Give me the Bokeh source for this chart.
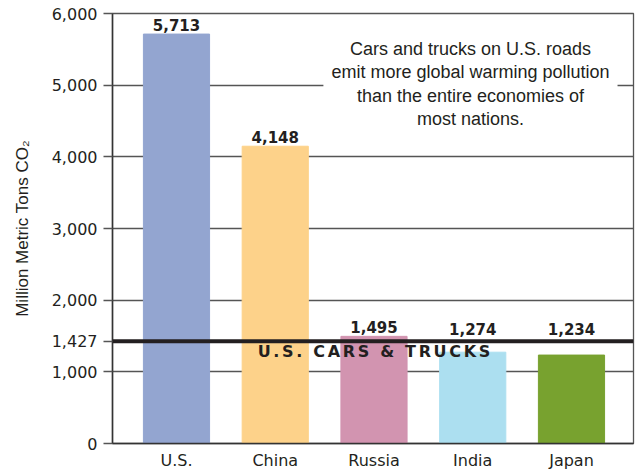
from bokeh.plotting import figure
from bokeh.models import Range1d, FixedTicker, NumeralTickFormatter, Span, Label, ColumnDataSource
from bokeh.embed import file_html
from bokeh.resources import INLINE
from bokeh.core.properties import value

# ---- data ----
countries = ["U.S.", "China", "Russia", "India", "Japan"]
emissions = [5713, 4148, 1495, 1274, 1234]
value_labels = ["5,713", "4,148", "1,495", "1,274", "1,234"]
bar_colors = ["#93a5d0", "#fdd28a", "#d294b0", "#acdff0", "#78a22f"]
us_vehicles = 1427
us_vehicles_label = "1,427"
us_vehicles_title = "U.S. CARS & TRUCKS"
y_ticks = [0, 1000, 2000, 3000, 4000, 5000, 6000]
note = "Cars and trucks on U.S. roads\nemit more global warming pollution\nthan the entire economies of\nmost nations."

TXT = "#231f20"
FONT = "DejaVu Sans"
X_START, X_END = -0.648, 4.628

# letter-spaced version of the reference-line caption
spaced_title = "\u2006 \u2006".join("\u2006".join(w) for w in us_vehicles_title.split())

xs = list(range(len(countries)))
# value labels of bars below the reference line are lifted above it
label_y = [max(v, us_vehicles + 50) for v in emissions]
src = ColumnDataSource(dict(x=xs, top=emissions, label=value_labels, ly=label_y, color=bar_colors))

p = figure(width=635, height=472, output_backend="svg", toolbar_location=None,
           x_range=Range1d(X_START, X_END), y_range=Range1d(0, 6000),
           min_border_left=112, min_border_right=2, min_border_top=13, min_border_bottom=0)
p.background_fill_color = "white"
p.border_fill_color = "white"
p.outline_line_color = "#555555"
p.outline_line_width = 1.3

p.vbar(x="x", top="top", width=0.67, bottom=0, color="color", source=src)
p.text(x="x", y="ly", text="label", source=src, text_align="center", text_baseline="bottom",
       y_offset=-3, text_font=value(FONT), text_font_style="bold", text_font_size="15px",
       text_color=TXT)

# x axis
p.xaxis.ticker = FixedTicker(ticks=xs)
p.xaxis.major_label_overrides = {i: c for i, c in zip(xs, countries)}
p.xaxis.major_tick_line_color = None
p.xaxis.major_tick_out = 0
p.xaxis.major_tick_in = 0
p.xaxis.minor_tick_line_color = None
p.xaxis.axis_line_color = "#333333"
p.xaxis.axis_line_width = 1.5
p.xaxis.major_label_standoff = 7
p.xaxis.major_label_text_font = FONT
p.xaxis.major_label_text_font_size = "16px"
p.xaxis.major_label_text_color = TXT

# y axis (the U.S. cars & trucks value is shown as an extra tick label)
p.yaxis.ticker = FixedTicker(ticks=sorted(y_ticks + [us_vehicles]))
p.yaxis.formatter = NumeralTickFormatter(format="0,0")
p.yaxis.major_label_overrides = {us_vehicles: us_vehicles_label}
p.yaxis.major_tick_out = 9
p.yaxis.major_tick_in = 0
p.yaxis.major_tick_line_color = "#555555"
p.yaxis.major_tick_line_width = 1.3
p.yaxis.minor_tick_line_color = None
p.yaxis.axis_line_color = "#333333"
p.yaxis.axis_line_width = 1.5
p.yaxis.major_label_standoff = 6
p.yaxis.major_label_text_font = FONT
p.yaxis.major_label_text_font_size = "16px"
p.yaxis.major_label_text_color = TXT
p.yaxis.axis_label = "Million Metric Tons CO\u2082"
p.yaxis.axis_label_standoff = 17
p.yaxis.axis_label_text_font = "Liberation Sans"
p.yaxis.axis_label_text_font_style = "normal"
p.yaxis.axis_label_text_font_size = "17px"
p.yaxis.axis_label_text_color = TXT

p.xgrid.visible = False
p.ygrid.ticker = FixedTicker(ticks=y_ticks)
p.ygrid.grid_line_color = "#555555"
p.ygrid.grid_line_width = 1.3

# U.S. cars & trucks reference line
p.add_layout(Span(location=us_vehicles, dimension="width", line_color=TXT, line_width=4))
p.add_layout(Label(x=2, y=us_vehicles, y_offset=-1, text=spaced_title,
                   text_align="center", text_baseline="top", text_font=FONT,
                   text_font_style="bold", text_font_size="16px", text_color=TXT))

# note box
p.add_layout(Label(x=2.977, y=5760, text=note, text_align="center", text_baseline="top",
                   text_font="Liberation Sans", text_font_size="18px", text_color=TXT,
                   text_line_height=1.18, background_fill_color="white", padding=8))

open("out.html", "w").write(file_html(p, INLINE))
